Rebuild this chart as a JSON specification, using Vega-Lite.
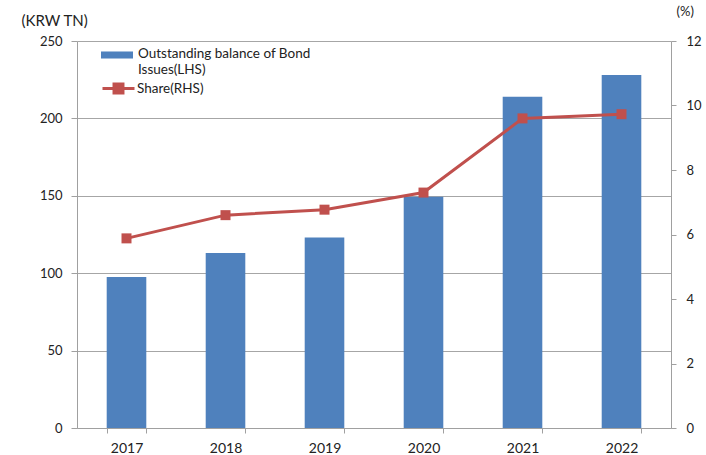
{
  "$schema": "https://vega.github.io/schema/vega-lite/v6.json",
  "autosize": "none",
  "width": 594,
  "height": 387,
  "padding": {"left": 77, "top": 41, "right": 35, "bottom": 27},
  "background": "white",
  "config": {
    "font": "Lato",
    "view": {"stroke": null},
    "axis": {"labelFont": "Lato", "titleFont": "Lato", "labelColor": "#222222", "titleColor": "#222222", "domainColor": "#A0A0A0", "tickColor": "#A0A0A0", "gridColor": "#A6A6A6"},
    "legend": {"padding": 0}
  },
  "data": {
    "values": [
      {"year": "2017", "balance": 97.5, "share": 5.88},
      {"year": "2018", "balance": 113, "share": 6.6},
      {"year": "2019", "balance": 123, "share": 6.77},
      {"year": "2020", "balance": 149.4, "share": 7.3},
      {"year": "2021", "balance": 214, "share": 9.6},
      {"year": "2022", "balance": 228, "share": 9.73}
    ]
  },
  "encoding": {
    "x": {
      "field": "year", "type": "nominal",
      "scale": {"paddingInner": 0.6, "paddingOuter": 0.3},
      "axis": {"title": null, "labelAngle": 0, "tickBand": "extent", "tickSize": 5, "labelPadding": 8, "labelFontSize": 14, "domainColor": "#A0A0A0", "grid": false}
    }
  },
  "layer": [
    {
      "mark": {"type": "bar"},
      "encoding": {
        "y": {
          "field": "balance", "type": "quantitative",
          "scale": {"domain": [0, 250], "nice": false},
          "axis": {"values": [0, 50, 100, 150, 200, 250], "title": "(KRW TN)", "titleAngle": 0, "titleAlign": "left", "titleBaseline": "alphabetic", "titleX": -56, "titleY": -16, "titleFontSize": 15, "titleFontWeight": "normal", "labelFontSize": 13, "tickSize": 6, "labelPadding": 9, "grid": true}
        },
        "color": {
          "datum": "Outstanding balance of Bond Issues(LHS)",
          "scale": {"range": ["#4F81BD"]},
          "legend": {
            "title": null, "orient": "none", "legendX": 24, "legendY": -2,
            "symbolType": "M-1,-0.22H1V0.22H-1Z", "symbolSize": 1024, "symbolStrokeWidth": 0,
            "labelFontSize": 13.5, "labelColor": "#222222", "labelLimit": 400, "labelOffset": 5,
            "labelExpr": "['Outstanding balance of Bond', 'Issues(LHS)']",
            "labelBaseline": "top",
            "encode": {"labels": {"update": {"lineHeight": {"value": 16}, "dy": {"value": -8}}}}
          }
        }
      }
    },
    {
      "mark": {"type": "line", "strokeWidth": 3},
      "encoding": {
        "y": {
          "field": "share", "type": "quantitative",
          "scale": {"domain": [0, 12], "nice": false},
          "axis": {"values": [0, 2, 4, 6, 8, 10, 12], "title": "(%)", "orient": "right", "titleAngle": 0, "titleAlign": "left", "titleBaseline": "alphabetic", "titleX": 5, "titleY": -26, "titleFontSize": 13, "titleFontWeight": "normal", "labelFontSize": 13, "tickSize": 5, "labelPadding": 10, "grid": false}
        },
        "stroke": {
          "datum": "Share(RHS)",
          "scale": {"range": ["#C0504D"]},
          "legend": {
            "title": null, "orient": "none", "legendX": 24, "legendY": 30,
            "symbolType": "M-1,0H1M-0.28,-0.28H0.28V0.28H-0.28Z", "symbolSize": 1024, "symbolStrokeWidth": 3,
            "symbolFillColor": "#C0504D",
            "labelFontSize": 13.5, "labelColor": "#222222", "labelLimit": 400, "labelOffset": 1
          }
        }
      }
    },
    {
      "mark": {"type": "square", "size": 100, "color": "#C0504D", "opacity": 1},
      "encoding": {
        "y": {"field": "share", "type": "quantitative", "scale": {"domain": [0, 12], "nice": false}, "axis": null}
      }
    }
  ],
  "resolve": {"scale": {"y": "independent", "color": "independent"}}
}
